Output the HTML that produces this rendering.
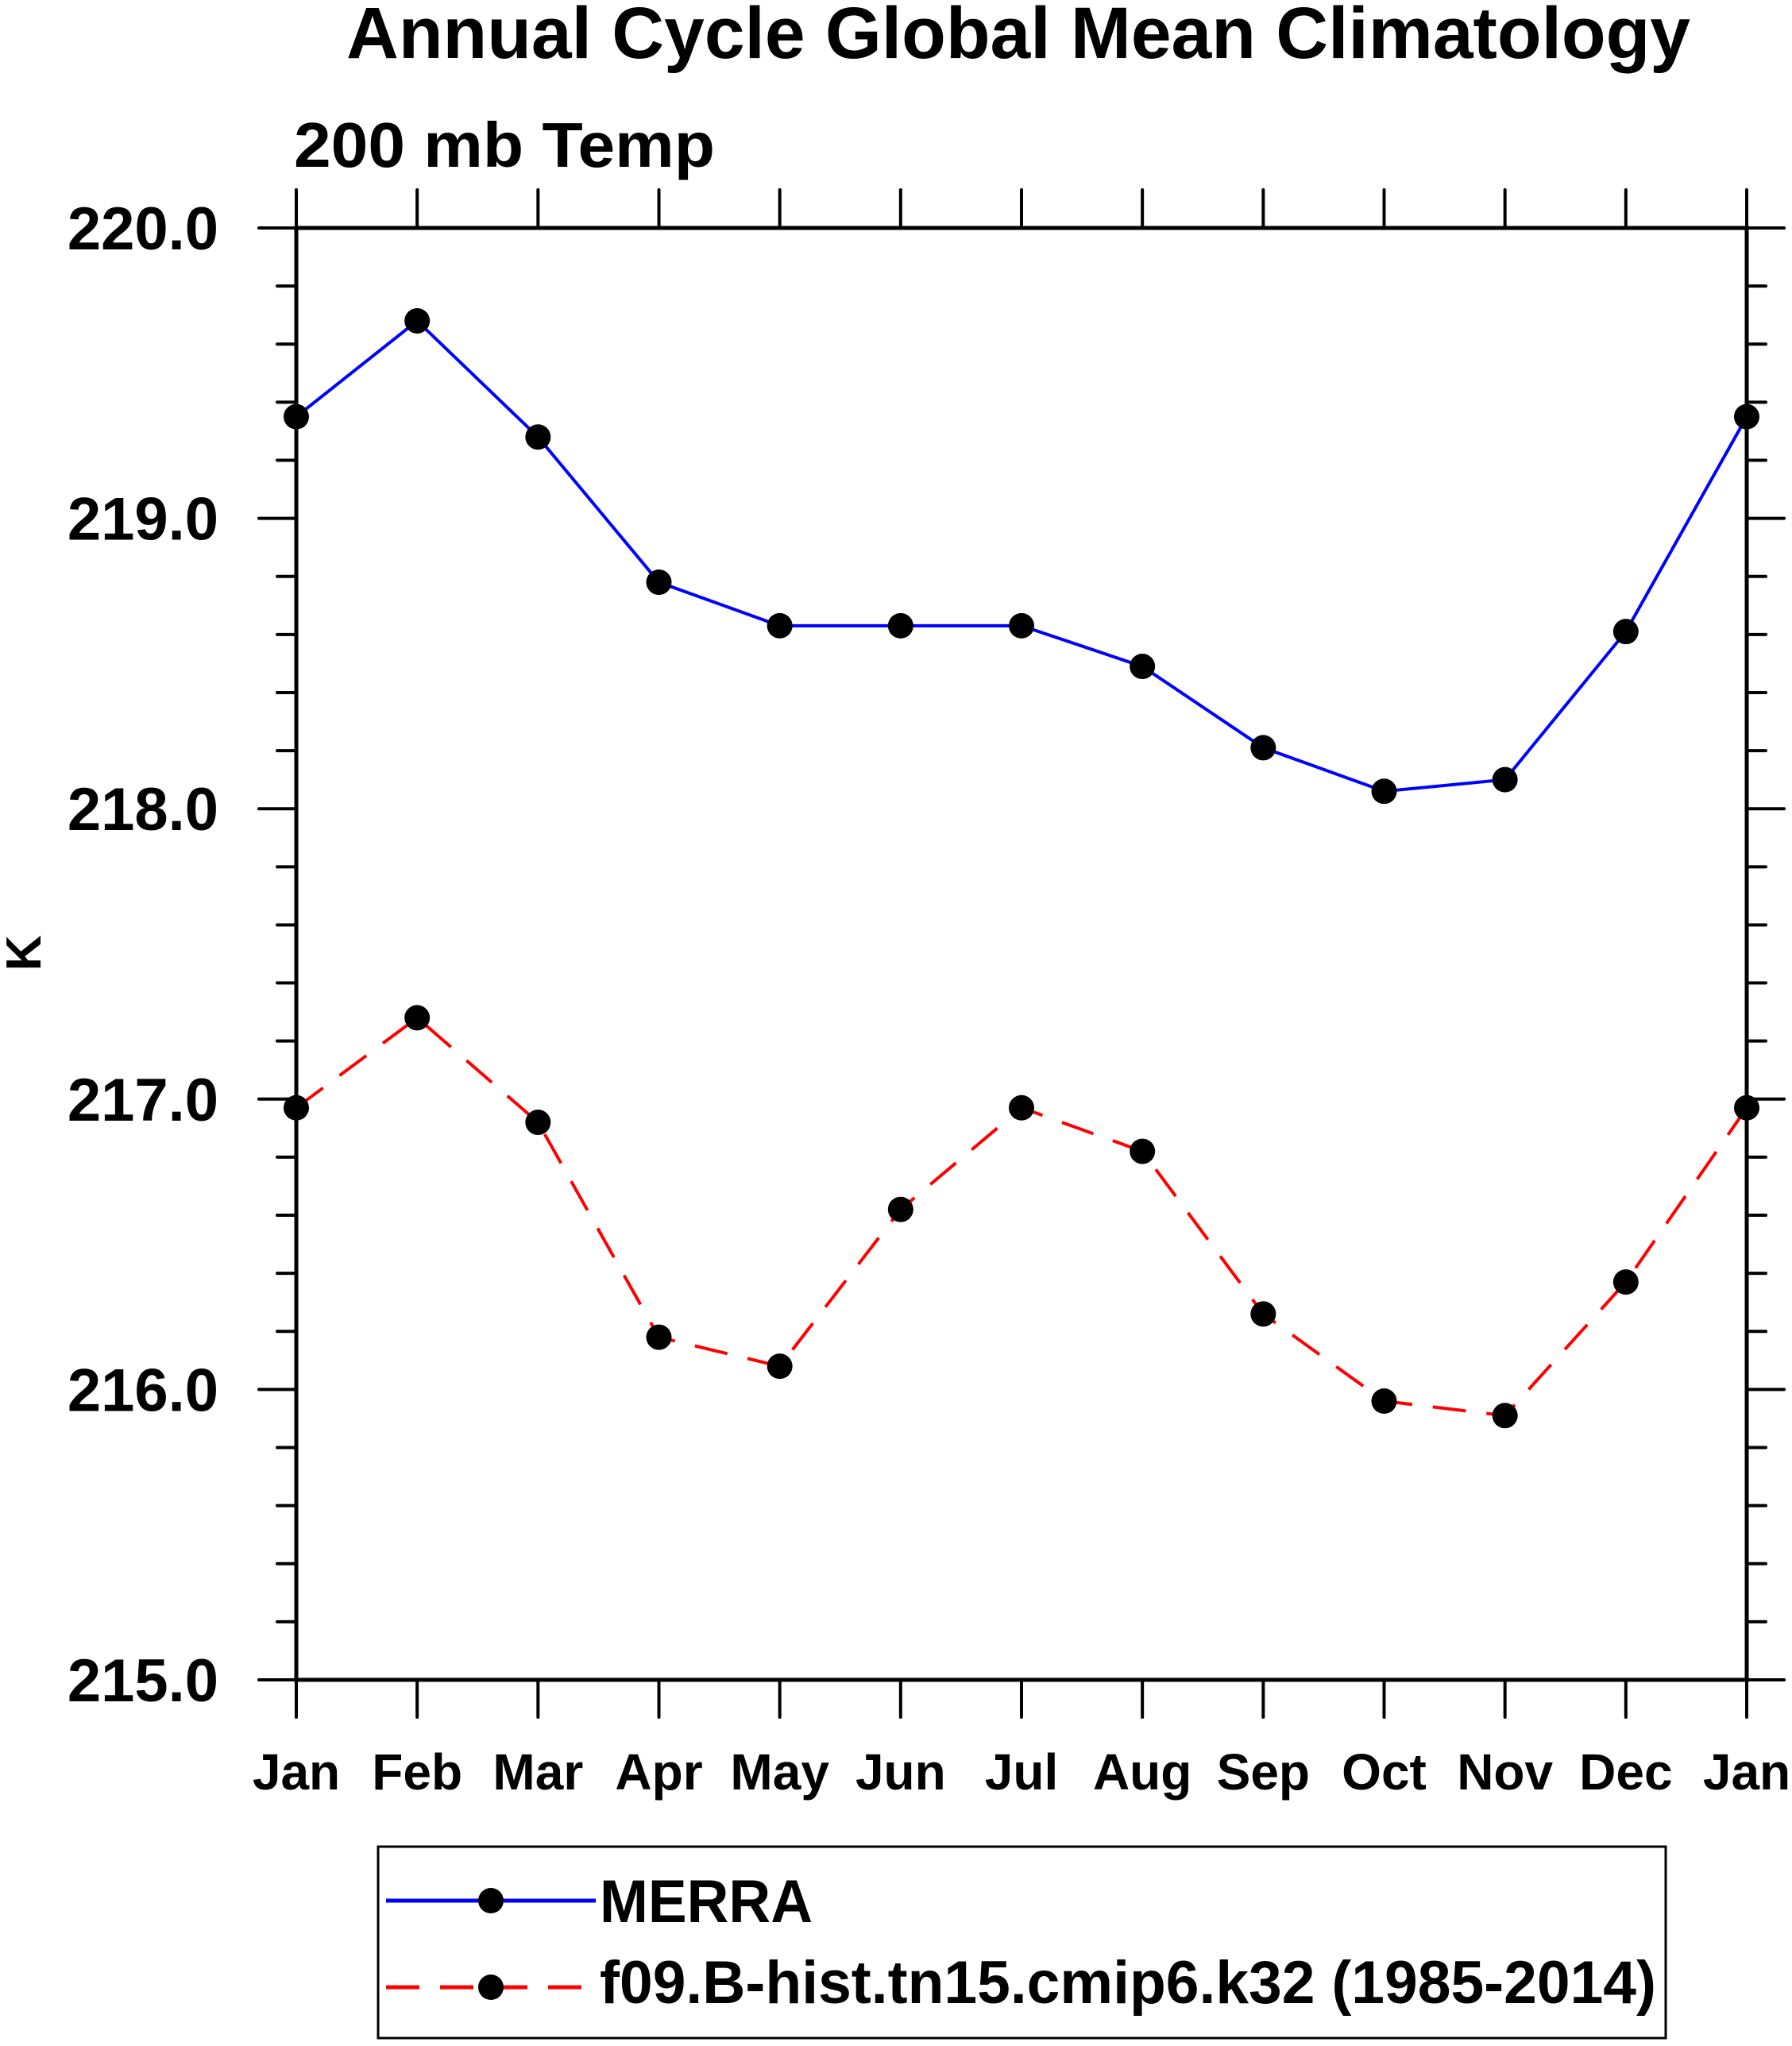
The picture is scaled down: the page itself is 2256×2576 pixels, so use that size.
<!DOCTYPE html>
<html><head><meta charset="utf-8"><style>html,body{margin:0;padding:0;background:#fff}svg{display:block}</style></head>
<body>
<svg width="2256" height="2576" viewBox="0 0 2256 2576" xmlns="http://www.w3.org/2000/svg" font-family="Liberation Sans, Arial, sans-serif" font-weight="bold">
<rect width="2256" height="2576" fill="#fff"/>
<text x="436" y="73" font-size="92" textLength="1692" lengthAdjust="spacingAndGlyphs">Annual Cycle Global Mean Climatology</text>
<text x="370" y="210" font-size="80" textLength="530" lengthAdjust="spacingAndGlyphs">200 mb Temp</text>
<text transform="translate(51,1200) rotate(-90)" font-size="62" text-anchor="middle">K</text>
<g id="axes" stroke="#000" stroke-linecap="round">
<rect x="373" y="287" width="1826" height="1828" fill="none" stroke-width="5"/>
</g>
<g id="ticks" stroke="#000" stroke-width="4" stroke-linecap="round"></g>
<g id="labels" font-size="66"></g>
<g id="series"></g>
<rect x="476" y="2325" width="1621" height="241" fill="none" stroke="#000" stroke-width="3"/>
<line x1="486" y1="2393" x2="750" y2="2393" stroke="#0000ff" stroke-width="5"/>
<ellipse cx="618" cy="2393" rx="16" ry="16" fill="#000"/>
<text x="755" y="2420" font-size="76" textLength="268" lengthAdjust="spacingAndGlyphs">MERRA</text>
<line x1="486" y1="2502" x2="750" y2="2502" stroke="#ff0000" stroke-width="5" stroke-dasharray="42,26"/>
<ellipse cx="618" cy="2502" rx="16" ry="16" fill="#000"/>
<text x="755" y="2522" font-size="76" textLength="1330" lengthAdjust="spacingAndGlyphs">f09.B-hist.tn15.cmip6.k32 (1985-2014)</text>
<script>
(function(){
var NS="http://www.w3.org/2000/svg";
function el(p,n,a,t){var e=document.createElementNS(NS,n);for(var k in a)e.setAttribute(k,a[k]);if(t)e.textContent=t;p.appendChild(e);return e;}
var L=373,R=2199,T=287,B=2115,dx=(R-L)/12,dy=(B-T)/5;
function X(i){return L+i*dx;}function Y(v){return T+(220-v)*dy;}
var tk=document.getElementById("ticks"),lb=document.getElementById("labels"),se=document.getElementById("series");
var m=["Jan","Feb","Mar","Apr","May","Jun","Jul","Aug","Sep","Oct","Nov","Dec","Jan"];
for(var i=0;i<=12;i++){var x=X(i);
el(tk,"line",{x1:x,y1:B,x2:x,y2:B+47});el(tk,"line",{x1:x,y1:T,x2:x,y2:T-48});
el(lb,"text",{x:x,y:2253,"text-anchor":"middle","font-size":"64"},m[i]);}
for(var j=0;j<=25;j++){var v=215+j*0.2,y=Y(v),maj=(j%5==0);
var len=maj?47:24;
el(tk,"line",{x1:L-len,y1:y,x2:L,y2:y});el(tk,"line",{x1:R,y1:y,x2:R+len,y2:y});
if(maj)el(lb,"text",{x:275,y:y+27,"text-anchor":"end","font-size":"76"},v.toFixed(1));}
var a=[219.35,219.68,219.28,218.78,218.63,218.63,218.63,218.49,218.21,218.06,218.10,218.61,219.35];
var b=[216.97,217.28,216.92,216.18,216.08,216.62,216.97,216.82,216.26,215.96,215.91,216.37,216.97];
function pts(d){return d.map(function(v,i){return X(i)+","+Y(v);}).join(" ");}
el(se,"polyline",{points:pts(a),fill:"none",stroke:"#0000ff","stroke-width":4});
el(se,"polyline",{points:pts(b),fill:"none",stroke:"#ff0000","stroke-width":4,"stroke-dasharray":"42,26"});
[a,b].forEach(function(d){d.forEach(function(v,i){el(se,"circle",{cx:X(i),cy:Y(v),r:16,fill:"#000"});});});
})();
</script>
</svg>
</body></html>
